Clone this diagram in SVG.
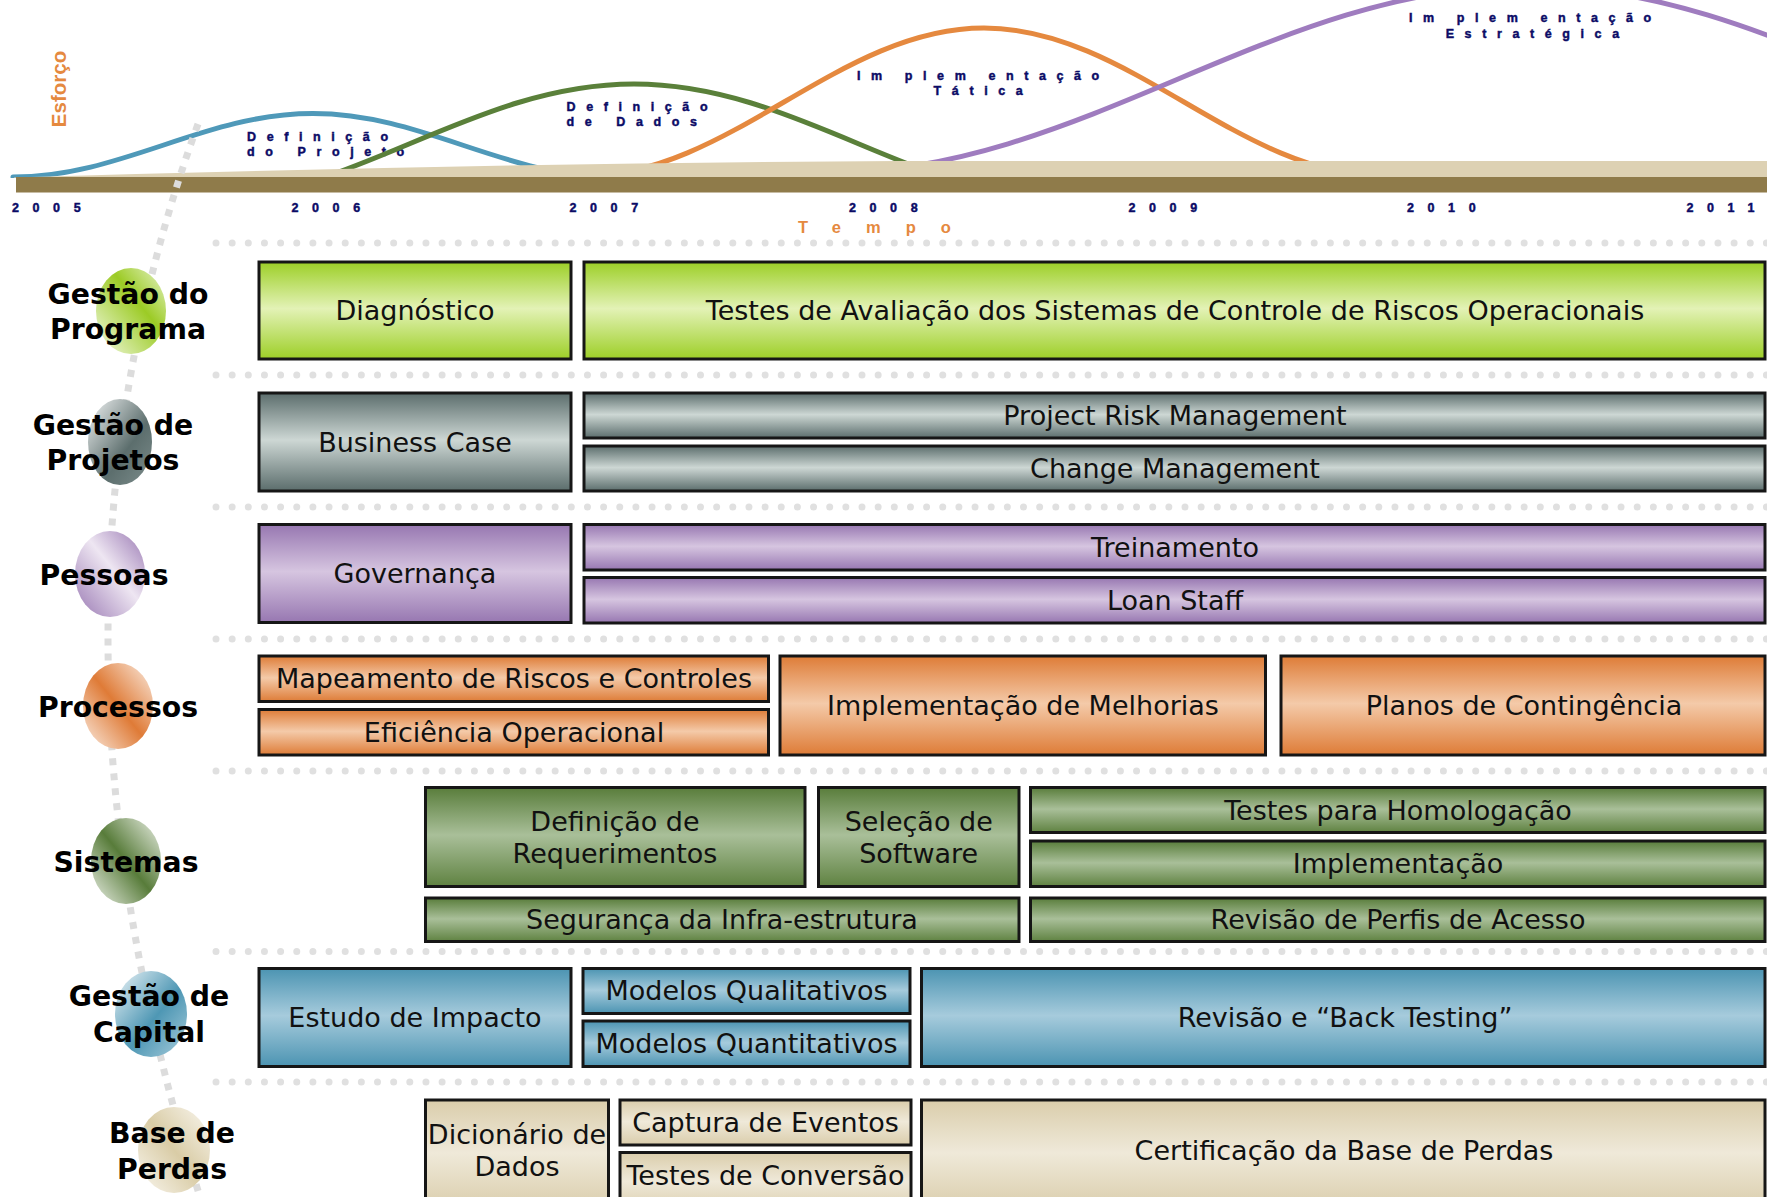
<svg xmlns="http://www.w3.org/2000/svg" width="1767" height="1197" viewBox="0 0 1767 1197">
<defs>
<style>
.box{stroke:#161616;stroke-width:3}
.bt{font-family:"DejaVu Sans",Verdana,sans-serif;font-size:27px;fill:#111;text-anchor:middle}
.lab{font-family:"DejaVu Sans",Verdana,sans-serif;font-weight:bold;font-size:28.3px;fill:#000;text-anchor:middle}
.hdr{font-family:"Liberation Sans",Arial,sans-serif;font-weight:bold;font-size:12.5px;fill:#0b0b66;stroke:#0b0b66;stroke-width:0.45;letter-spacing:10.6px}
.yr{font-family:"Liberation Sans",Arial,sans-serif;font-weight:bold;font-size:12.5px;fill:#0b0b66;stroke:#0b0b66;stroke-width:0.45;letter-spacing:13.6px}
.dots{fill:none;stroke:#e0e0e0;stroke-width:7;stroke-linecap:round;stroke-dasharray:0 16.15}
.curve{fill:none;stroke-width:5;stroke-linecap:round}
</style>
<clipPath id="above"><rect x="0" y="-60" width="1767" height="238"/></clipPath>
<linearGradient id="gLime" x1="0" y1="0" x2="0" y2="1"><stop offset="0" stop-color="#9dcf27"/><stop offset="0.48" stop-color="#e3f2b6"/><stop offset="1" stop-color="#9dcf27"/></linearGradient>
<linearGradient id="gGray" x1="0" y1="0" x2="0" y2="1"><stop offset="0" stop-color="#5b6d6c"/><stop offset="0.48" stop-color="#cdd7d4"/><stop offset="1" stop-color="#5b6d6c"/></linearGradient>
<linearGradient id="gPurp" x1="0" y1="0" x2="0" y2="1"><stop offset="0" stop-color="#9777b1"/><stop offset="0.48" stop-color="#d6c5e0"/><stop offset="1" stop-color="#9777b1"/></linearGradient>
<linearGradient id="gOrg" x1="0" y1="0" x2="0" y2="1"><stop offset="0" stop-color="#de7c37"/><stop offset="0.48" stop-color="#f4caa9"/><stop offset="1" stop-color="#de7c37"/></linearGradient>
<linearGradient id="gGrn" x1="0" y1="0" x2="0" y2="1"><stop offset="0" stop-color="#597d3b"/><stop offset="0.48" stop-color="#a9bf99"/><stop offset="1" stop-color="#5f8241"/></linearGradient>
<linearGradient id="gBlue" x1="0" y1="0" x2="0" y2="1"><stop offset="0" stop-color="#4c94b2"/><stop offset="0.48" stop-color="#a6cbdc"/><stop offset="1" stop-color="#4c94b2"/></linearGradient>
<linearGradient id="gBeige" x1="0" y1="0" x2="0" y2="1"><stop offset="0" stop-color="#dacdab"/><stop offset="0.48" stop-color="#efe9d9"/><stop offset="1" stop-color="#dacdab"/></linearGradient>
<linearGradient id="sLime" x1="1" y1="0" x2="0" y2="1"><stop offset="0" stop-color="#e9f5cf"/><stop offset="0.4" stop-color="#9ccb25"/><stop offset="1" stop-color="#f4fae6"/></linearGradient>
<linearGradient id="sGray" x1="0" y1="0" x2="1" y2="1"><stop offset="0" stop-color="#f2f4f4"/><stop offset="0.6" stop-color="#5c6e6d"/><stop offset="1" stop-color="#7d8d8c"/></linearGradient>
<linearGradient id="sPurp" x1="1" y1="0" x2="0" y2="1"><stop offset="0" stop-color="#9877b2"/><stop offset="0.45" stop-color="#eee6f2"/><stop offset="1" stop-color="#9877b2"/></linearGradient>
<linearGradient id="sOrg" x1="1" y1="0" x2="0" y2="1"><stop offset="0" stop-color="#fbeee4"/><stop offset="0.5" stop-color="#df7b37"/><stop offset="1" stop-color="#fbeee4"/></linearGradient>
<linearGradient id="sGrn" x1="1" y1="0" x2="0" y2="1"><stop offset="0" stop-color="#eef2ea"/><stop offset="0.5" stop-color="#587c3a"/><stop offset="1" stop-color="#eef2ea"/></linearGradient>
<linearGradient id="sBlue" x1="0" y1="0" x2="1" y2="1"><stop offset="0" stop-color="#eef5f8"/><stop offset="0.55" stop-color="#4e97b4"/><stop offset="1" stop-color="#a9cddc"/></linearGradient>
<linearGradient id="sBeige" x1="1" y1="0" x2="0" y2="1"><stop offset="0" stop-color="#faf7f0"/><stop offset="0.5" stop-color="#d9cca6"/><stop offset="1" stop-color="#faf7f0"/></linearGradient>
</defs>
<rect x="0" y="0" width="1767" height="1197" fill="#ffffff"/>

<g id="timeline">
<text class="hdr" x="247" y="141">Definição</text>
<text class="hdr" x="247" y="155.5">do Projeto</text>
<text class="hdr" x="566.5" y="111">Definição</text>
<text class="hdr" x="566.5" y="126">de Dados</text>
<text class="hdr" x="857" y="79.5">Im<tspan dx="12">plem</tspan><tspan dx="12">entação</tspan></text>
<text class="hdr" x="933.6" y="94.5">Tática</text>
<text class="hdr" x="1409" y="22">Im<tspan dx="12">plem</tspan><tspan dx="12">entação</tspan></text>
<text class="hdr" x="1445.7" y="38">Estratégica</text>
<g clip-path="url(#above)">
<path class="curve" stroke="#4f99b9" d="M13,177 C122.3,177 203.7,113.5 313,113.5 C422.3,113.5 503.7,177 613,177"/>
<path class="curve" stroke="#5a803a" d="M184,204 C347.9,204 470.1,84 634,84 C797.9,84 920.1,204 1084,204"/>
<path class="curve" stroke="#e5893f" d="M584,176 C729.7,176 838.3,28 984,28 C1129.7,28 1238.3,176 1384,176"/>
<path class="curve" stroke="#9f7cbf" d="M827,173 C1081.9,173 1272.1,-14 1527,-14 C1781.9,-14 1972.1,173 2227,173"/>
</g>
<path d="M14,177.5 Q500,163 900,161 L1767,161 L1767,178 L14,178 Z" fill="#ddd1b3"/>
<rect x="16" y="177" width="1751" height="15.5" fill="#8f7b4a"/>
<text class="yr" x="12" y="212">2005</text>
<text class="yr" x="291.5" y="212">2006</text>
<text class="yr" x="569.5" y="212">2007</text>
<text class="yr" x="849" y="212">2008</text>
<text class="yr" x="1128.5" y="212">2009</text>
<text class="yr" x="1407" y="212">2010</text>
<text class="yr" x="1686.5" y="212">2011</text>
<text x="798" y="233" font-family="Liberation Sans, Arial, sans-serif" font-weight="bold" font-size="16.5" fill="#e5893f" letter-spacing="25">Tempo</text>
<text transform="translate(66,89) rotate(-90)" text-anchor="middle" font-family="Liberation Sans, Arial, sans-serif" font-weight="bold" font-size="20.5" fill="#e5893f">Esforço</text>
</g>

<g id="connectors">
<path d="M198,124 Q17,620 200,1197" fill="none" stroke="#dcdcdc" stroke-width="7" stroke-dasharray="7 8"/>
<path class="dots" d="M216,243 H1767"/>
<path class="dots" d="M216,375 H1767"/>
<path class="dots" d="M216,507 H1767"/>
<path class="dots" d="M216,639 H1767"/>
<path class="dots" d="M216,771 H1767"/>
<path class="dots" d="M216,951.5 H1767"/>
<path class="dots" d="M216,1082 H1767"/>
</g>

<g id="label-programa"><ellipse cx="131" cy="311" rx="35" ry="43" fill="url(#sLime)"/><text class="lab" x="128" y="304">Gestão do</text><text class="lab" x="128" y="339">Programa</text></g>
<g id="label-projetos"><ellipse cx="120" cy="442" rx="32" ry="43" fill="url(#sGray)"/><text class="lab" x="113" y="435">Gestão de</text><text class="lab" x="113" y="470">Projetos</text></g>
<g id="label-pessoas"><ellipse cx="110" cy="574" rx="35" ry="43" fill="url(#sPurp)"/><text class="lab" x="104" y="585">Pessoas</text></g>
<g id="label-processos"><ellipse cx="118" cy="706" rx="35" ry="43" fill="url(#sOrg)"/><text class="lab" x="118" y="717">Processos</text></g>
<g id="label-sistemas"><ellipse cx="126" cy="861" rx="35" ry="43" fill="url(#sGrn)"/><text class="lab" x="126" y="872">Sistemas</text></g>
<g id="label-capital"><ellipse cx="151" cy="1014" rx="36" ry="43" fill="url(#sBlue)"/><text class="lab" x="149" y="1006">Gestão de</text><text class="lab" x="149" y="1042">Capital</text></g>
<g id="label-perdas"><ellipse cx="174" cy="1150" rx="36" ry="43" fill="url(#sBeige)"/><text class="lab" x="172" y="1143">Base de</text><text class="lab" x="172" y="1179">Perdas</text></g>

<g id="diagnostico"><rect class="box" x="259" y="262" width="312" height="97" fill="url(#gLime)"/><text class="bt" x="415" y="320">Diagnóstico</text></g>
<g id="testes-avaliacao"><rect class="box" x="584" y="262" width="1181" height="97" fill="url(#gLime)"/><text class="bt" x="1175" y="320">Testes de Avaliação dos Sistemas de Controle de Riscos Operacionais</text></g>

<g id="business-case"><rect class="box" x="259" y="393" width="312" height="98" fill="url(#gGray)"/><text class="bt" x="415" y="451.5">Business Case</text></g>
<g id="project-risk"><rect class="box" x="584" y="393" width="1181" height="45" fill="url(#gGray)"/><text class="bt" x="1175" y="425">Project Risk Management</text></g>
<g id="change-mgmt"><rect class="box" x="584" y="446" width="1181" height="45" fill="url(#gGray)"/><text class="bt" x="1175" y="478">Change Management</text></g>

<g id="governanca"><rect class="box" x="259" y="524.5" width="312" height="98" fill="url(#gPurp)"/><text class="bt" x="415" y="583">Governança</text></g>
<g id="treinamento"><rect class="box" x="584" y="524.5" width="1181" height="45.5" fill="url(#gPurp)"/><text class="bt" x="1175" y="556.5">Treinamento</text></g>
<g id="loan-staff"><rect class="box" x="584" y="577.5" width="1181" height="45.5" fill="url(#gPurp)"/><text class="bt" x="1175" y="609.5">Loan Staff</text></g>

<g id="mapeamento"><rect class="box" x="259" y="656" width="509.5" height="45.5" fill="url(#gOrg)"/><text class="bt" x="514" y="688">Mapeamento de Riscos e Controles</text></g>
<g id="eficiencia"><rect class="box" x="259" y="709.5" width="509.5" height="45.5" fill="url(#gOrg)"/><text class="bt" x="514" y="741.5">Eficiência Operacional</text></g>
<g id="melhorias"><rect class="box" x="780" y="656" width="485.5" height="99" fill="url(#gOrg)"/><text class="bt" x="1023" y="715">Implementação de Melhorias</text></g>
<g id="contingencia"><rect class="box" x="1281" y="656" width="484" height="99" fill="url(#gOrg)"/><text class="bt" x="1524" y="715">Planos de Contingência</text></g>

<g id="requerimentos"><rect class="box" x="425.5" y="787.5" width="379.5" height="99" fill="url(#gGrn)"/><text class="bt" x="615" y="831">Definição de</text><text class="bt" x="615" y="862.5">Requerimentos</text></g>
<g id="selecao-software"><rect class="box" x="818.5" y="787.5" width="200.5" height="99" fill="url(#gGrn)"/><text class="bt" x="918.7" y="831">Seleção de</text><text class="bt" x="918.7" y="862.5">Software</text></g>
<g id="homologacao"><rect class="box" x="1030.5" y="787.5" width="734.5" height="45" fill="url(#gGrn)"/><text class="bt" x="1398" y="819.5">Testes para Homologação</text></g>
<g id="implementacao"><rect class="box" x="1030.5" y="841" width="734.5" height="45.5" fill="url(#gGrn)"/><text class="bt" x="1398" y="873">Implementação</text></g>
<g id="seguranca"><rect class="box" x="425.5" y="898" width="593.5" height="43.5" fill="url(#gGrn)"/><text class="bt" x="722" y="929">Segurança da Infra-estrutura</text></g>
<g id="perfis-acesso"><rect class="box" x="1030.5" y="898" width="734.5" height="43.5" fill="url(#gGrn)"/><text class="bt" x="1398" y="929">Revisão de Perfis de Acesso</text></g>

<g id="estudo-impacto"><rect class="box" x="259" y="968.5" width="312" height="98" fill="url(#gBlue)"/><text class="bt" x="415" y="1027">Estudo de Impacto</text></g>
<g id="modelos-qual"><rect class="box" x="583" y="968.5" width="327" height="45" fill="url(#gBlue)"/><text class="bt" x="746.5" y="1000">Modelos Qualitativos</text></g>
<g id="modelos-quant"><rect class="box" x="583" y="1021" width="327" height="45.5" fill="url(#gBlue)"/><text class="bt" x="746.5" y="1053">Modelos Quantitativos</text></g>
<g id="back-testing"><rect class="box" x="921.5" y="968.5" width="843.5" height="98" fill="url(#gBlue)"/><text class="bt" x="1345" y="1027">Revisão e “Back Testing”</text></g>

<g id="dicionario"><rect class="box" x="425.5" y="1100" width="183" height="110" fill="url(#gBeige)"/><text class="bt" x="517" y="1144">Dicionário de</text><text class="bt" x="517" y="1175.5">Dados</text></g>
<g id="captura"><rect class="box" x="620" y="1100" width="291" height="45" fill="url(#gBeige)"/><text class="bt" x="765.5" y="1132">Captura de Eventos</text></g>
<g id="conversao"><rect class="box" x="620" y="1152.5" width="291" height="60" fill="url(#gBeige)"/><text class="bt" x="765.5" y="1185">Testes de Conversão</text></g>
<g id="certificacao"><rect class="box" x="921.5" y="1100" width="843.5" height="110" fill="url(#gBeige)"/><text class="bt" x="1344" y="1160">Certificação da Base de Perdas</text></g>
</svg>
